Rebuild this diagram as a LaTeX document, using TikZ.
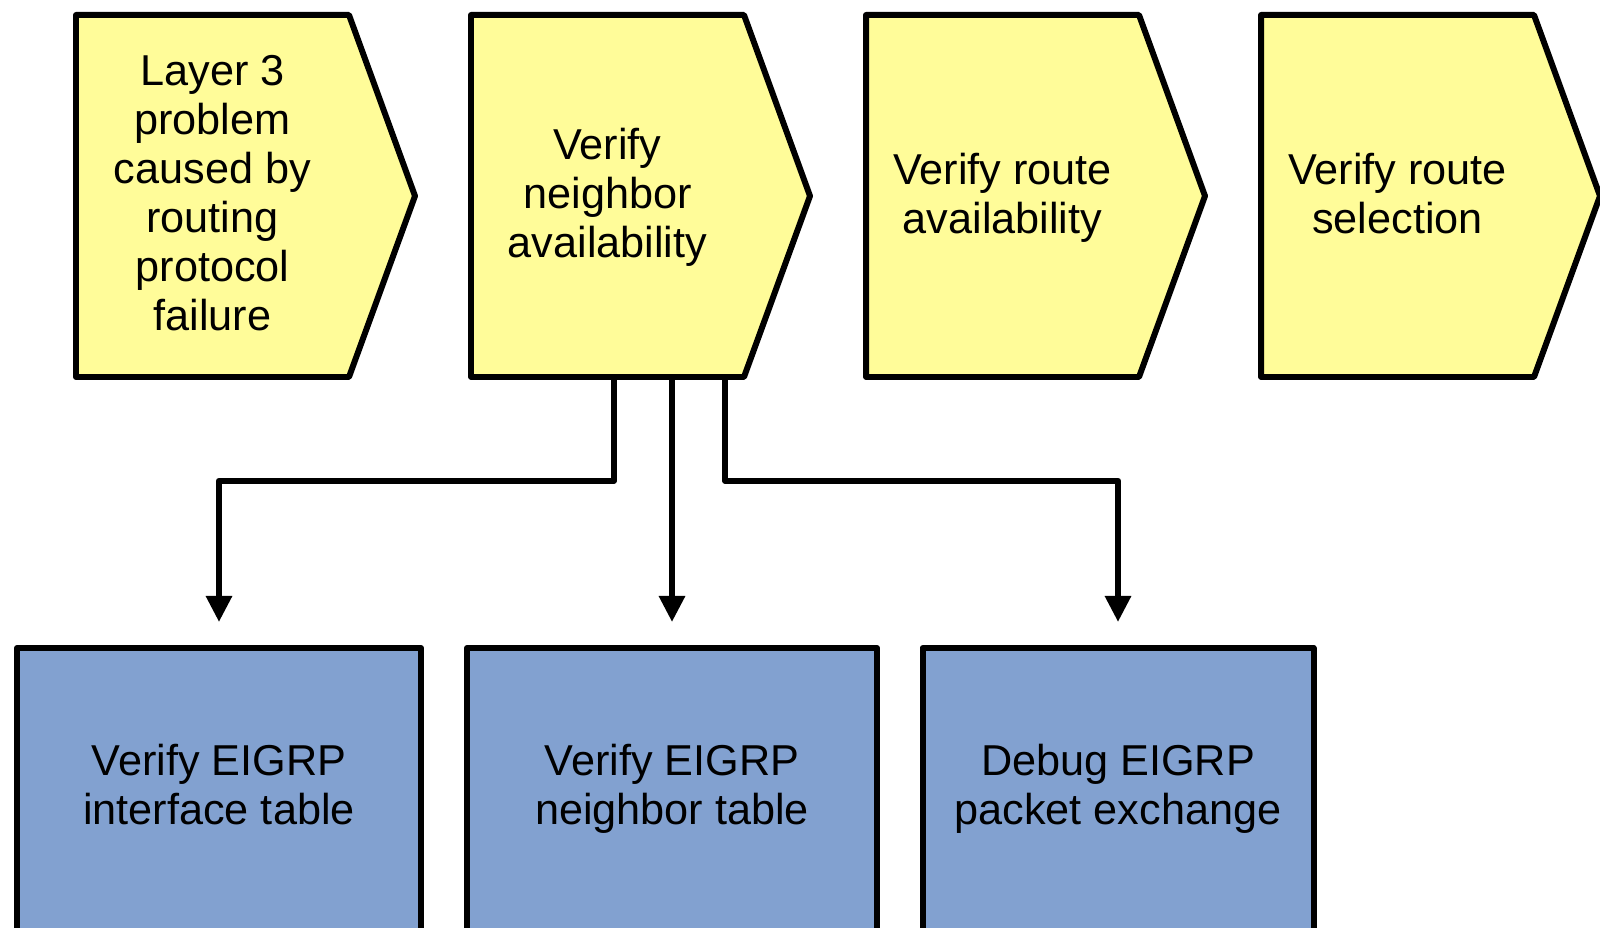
\documentclass[tikz,border=0pt]{standalone}
\usepackage{fontspec}
\setmainfont{Liberation Sans}
\usepackage{tikz}
\usetikzlibrary{arrows.meta}
\definecolor{chevyellow}{RGB}{255,252,153}
\definecolor{taskblue}{RGB}{130,161,208}
\tikzset{
    chev/.style={draw=black, line width=1.7pt, fill=chevyellow, line join=round},
    lbl/.style={minimum width=2.73cm, minimum height=3.62cm, inner sep=0pt,
        align=center, text depth=1.7pt,
        font=\fontsize{12.3}{13.9}\selectfont},
    task/.style={draw=black, line width=1.7pt, fill=taskblue, line join=round,
        anchor=north, minimum height=2.9cm, inner sep=0pt, align=center,
        text depth=4.8pt, font=\fontsize{12.3}{13.9}\selectfont},
    conn/.style={line width=1.7pt, line join=round, shorten >=0.23cm,
        -{Triangle[width=0.25cm, length=0.26cm]}},
}
\begin{document}
\begin{tikzpicture}
\useasboundingbox (0,0) rectangle (16,-9.28);

%process chevrons along the top
\foreach \k/\nm/\txt in {0/prob/{Layer 3\\problem\\caused by\\routing\\protocol\\failure},
                         1/nbr/{Verify\\neighbor\\availability},
                         2/rav/{Verify route\\availability},
                         3/rsel/{Verify route\\selection}}{
    \draw[chev] ({0.76+3.95*\k},-0.15) -- ++(2.73,0) -- ++(0.66,-1.81)
        -- ++(-0.66,-1.81) -- ++(-2.73,0) -- cycle;
    \node[lbl] (\nm) at ({0.76+3.95*\k+1.365},-1.96) {\txt};
}

%checks below the neighbor step
\node[task, minimum width=4.04cm] (ifc) at (2.19,-6.45) {Verify EIGRP\\interface table};
\node[task, minimum width=4.10cm] (nbt) at (6.72,-6.45) {Verify EIGRP\\neighbor table};
\node[task, minimum width=3.91cm] (pkt) at (11.18,-6.45) {Debug EIGRP\\packet exchange};

%connectors
\draw[conn] ([xshift=0.065cm]nbr.south) -- ++(0,-1.03) -| (ifc.north);
\draw[conn] (nbr.south -| nbt.north) -- (nbt.north);
\draw[conn] ([xshift=1.175cm]nbr.south) -- ++(0,-1.03) -| (pkt.north);
\end{tikzpicture}
\end{document}
